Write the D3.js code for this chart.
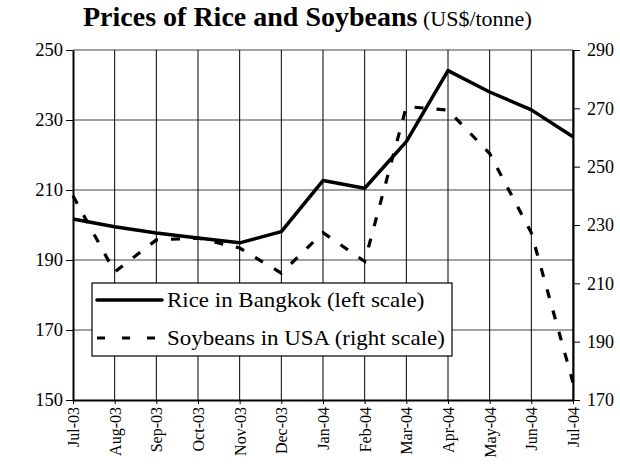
<!DOCTYPE html>
<html>
<head>
<meta charset="utf-8">
<script src="https://cdn.jsdelivr.net/npm/d3@7"></script>
<style>
  body { margin: 0; background: #fff; }
  .axis path, .axis line { stroke: #000; }
  .axis text { fill: #000; }
</style>
</head>
<body>
<svg id="chart" width="620" height="468"></svg>
<script>
const months = ['Jul-03', 'Aug-03', 'Sep-03', 'Oct-03', 'Nov-03', 'Dec-03',
  'Jan-04', 'Feb-04', 'Mar-04', 'Apr-04', 'May-04', 'Jun-04', 'Jul-04']
const rice = [201.7, 199.5, 197.7, 196.3, 194.9, 198.1, 212.7, 210.5, 223.8, 244.1, 238, 232.9, 225.2]
const soybeans = [240, 213.9, 224.9, 225.5, 222.1, 213.5, 227.4, 217.5, 270.6, 269.4, 254.5, 227.3, 176]
const leftTicks = [150, 170, 190, 210, 230, 250]
const rightTicks = [170, 190, 210, 230, 250, 270, 290]
const seriesNames = ['Rice in Bangkok (left scale)', 'Soybeans in USA (right scale)']

const FONT = '"Liberation Serif", "Times New Roman", Times, serif'
const margin = { top: 50, right: 47, bottom: 68, left: 73 }
const width = 620 - margin.left - margin.right
const height = 468 - margin.top - margin.bottom

const svg = d3.select('#chart').attr('font-family', FONT)
const g = svg.append('g').attr('transform', `translate(${margin.left},${margin.top})`)

const x = d3.scalePoint().domain(months).range([0, width])
const yL = d3.scaleLinear().domain([150, 250]).range([height, 0])
const yR = d3.scaleLinear().domain([170, 290]).range([height, 0])

// title
const title = svg.append('text').attr('x', 83).attr('y', 26)
title.append('tspan').attr('font-weight', 'bold').attr('font-size', 28).text('Prices of Rice and Soybeans')
title.append('tspan').attr('font-size', 22).text(' (US$/tonne)')

// grid
g.selectAll('.hgrid')
    .data(leftTicks.slice(1))
  .enter().append('line')
    .attr('x1', 0).attr('x2', width)
    .attr('y1', d => yL(d)).attr('y2', d => yL(d))
    .attr('stroke', '#808080').attr('stroke-width', 1.3)

g.selectAll('.vgrid')
    .data(months.slice(1))
  .enter().append('line')
    .attr('x1', d => x(d)).attr('x2', d => x(d))
    .attr('y1', 0).attr('y2', height)
    .attr('stroke', '#000').attr('stroke-width', 1)

// axes
function styleAxis (sel, size) {
  sel.attr('font-family', FONT).attr('font-size', size)
  sel.selectAll('text').attr('font-family', FONT)
  sel.select('.domain').attr('stroke-width', 2)
}

const leftAxis = g.append('g').attr('class', 'axis')
    .call(d3.axisLeft(yL).tickValues(leftTicks).tickSize(7).tickSizeOuter(0).tickPadding(3))
styleAxis(leftAxis, 18.5)

const rightAxis = g.append('g').attr('class', 'axis')
    .attr('transform', `translate(${width},0)`)
    .call(d3.axisRight(yR).tickValues(rightTicks).tickSize(7).tickSizeOuter(0).tickPadding(7))
styleAxis(rightAxis, 18)

const bottomAxis = g.append('g').attr('class', 'axis')
    .attr('transform', `translate(0,${height})`)
    .call(d3.axisBottom(x).tickSize(4).tickSizeOuter(0))
styleAxis(bottomAxis, 16)
bottomAxis.selectAll('text')
    .attr('transform', 'rotate(-90)')
    .attr('text-anchor', 'end')
    .attr('x', -7).attr('y', 0).attr('dy', '0.35em')

// lines
const riceLine = d3.line().x((d, i) => x(months[i])).y(d => yL(d))
const soyLine = d3.line().x((d, i) => x(months[i])).y(d => yR(d))

g.append('path').datum(soybeans)
    .attr('d', soyLine)
    .attr('fill', 'none').attr('stroke', '#000')
    .attr('stroke-width', 3.2).attr('stroke-dasharray', '9,13')

g.append('path').datum(rice)
    .attr('d', riceLine)
    .attr('fill', 'none').attr('stroke', '#000')
    .attr('stroke-width', 3.5).attr('stroke-linejoin', 'round')

// legend
const legend = svg.append('g').attr('transform', 'translate(92,283)')
legend.append('rect')
    .attr('width', 360).attr('height', 73)
    .attr('fill', '#fff').attr('stroke', '#000').attr('stroke-width', 1.2)

const items = legend.selectAll('.item')
    .data(seriesNames)
  .enter().append('g')
    .attr('transform', (d, i) => `translate(0,${17 + i * 38})`)

items.append('line')
    .attr('x1', 5).attr('x2', 70)
    .attr('stroke', '#000')
    .attr('stroke-width', (d, i) => i === 0 ? 3.5 : 3.2)
    .attr('stroke-dasharray', (d, i) => i === 0 ? null : '8,17')
    .attr('stroke-linecap', (d, i) => i === 0 ? 'round' : 'butt')

// legend text in the source is a little wider than plain Times
items.append('text')
    .attr('transform', 'translate(75,0) scale(1.12,1)')
    .attr('dy', '0.35em')
    .attr('font-size', 20.5)
    .text(d => d)
</script>
</body>
</html>
